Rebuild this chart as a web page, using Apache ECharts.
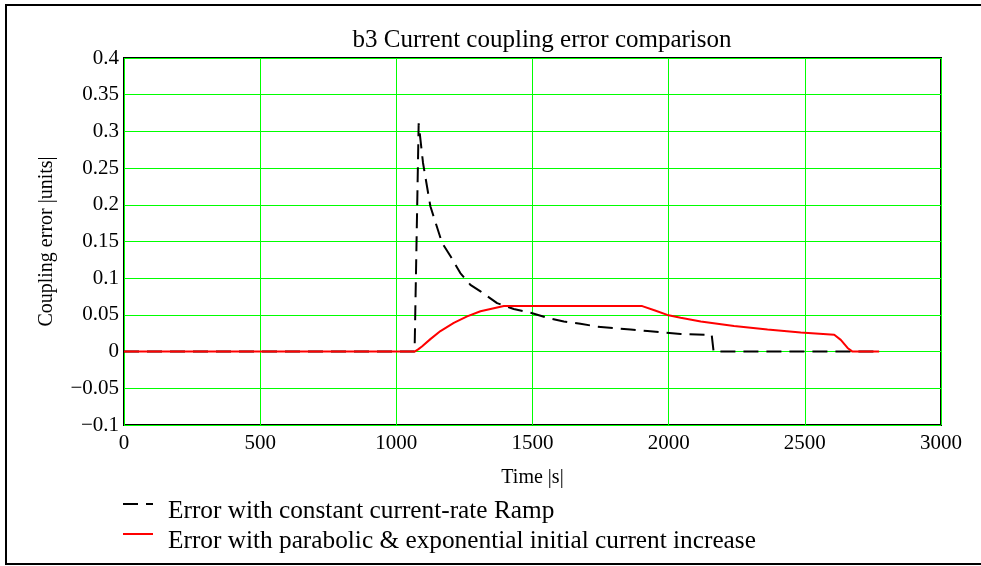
<!DOCTYPE html>
<html>
<head>
<meta charset="utf-8">
<script src="https://cdn.jsdelivr.net/npm/echarts@6/dist/echarts.min.js"></script>
<style>html,body{margin:0;padding:0;background:#fff;}#c{width:981px;height:566px;}</style>
</head>
<body>
<div id="c"></div>
<script>
var titleText = 'b3 Current coupling error comparison';
var xName = 'Time |s|';
var yName = 'Coupling error |units|';
var legendNames = ['Error with constant current-rate Ramp', 'Error with parabolic & exponential initial current increase'];

var rampTime = [0, 1067, 1082, 1098, 1125, 1168, 1199, 1235, 1272, 1309, 1370, 1431, 1493, 1554, 1615, 1676, 1738, 1799, 1860, 1922, 1983, 2044, 2142, 2158, 2165, 2762];
var rampErr  = [0, 0, 0.311, 0.257, 0.198, 0.148, 0.130, 0.107, 0.091, 0.082, 0.066, 0.058, 0.053, 0.046, 0.041, 0.038, 0.034, 0.032, 0.030, 0.028, 0.026, 0.024, 0.023, 0.023, 0, 0];

var paraTime = [0, 1067, 1080, 1094, 1125, 1162, 1211, 1260, 1309, 1358, 1395, 1903, 1950, 1995, 2044, 2118, 2240, 2363, 2485, 2608, 2632, 2657, 2675, 2773];
var paraErr  = [0, 0, 0.003, 0.007, 0.017, 0.028, 0.039, 0.048, 0.055, 0.059, 0.062, 0.062, 0.056, 0.050, 0.046, 0.041, 0.035, 0.030, 0.026, 0.023, 0.016, 0.005, 0, 0];

function pairs(t, v) { return t.map(function (x, i) { return [x, v[i]]; }); }

var font = 'Liberation Serif';
var chart = echarts.init(document.getElementById('c'));
chart.setOption({
  animation: false,
  backgroundColor: '#fff',
  title: {
    text: titleText, left: 537, top: 23, textAlign: 'center',
    textStyle: { fontFamily: font, fontSize: 25, fontWeight: 'normal', color: '#000' }
  },
  grid: { left: 124, right: 40, top: 58, bottom: 141, show: true, borderColor: '#000', borderWidth: 2, backgroundColor: 'transparent' },
  xAxis: {
    type: 'value', min: 0, max: 3000, interval: 500,
    name: xName, nameLocation: 'middle', nameGap: 43,
    nameTextStyle: { fontFamily: font, fontSize: 20, color: '#000' },
    axisLine: { show: false }, axisTick: { show: false },
    axisLabel: { fontFamily: font, fontSize: 21, color: '#000', margin: 8,
      formatter: function (v) { return String(v); } },
    splitLine: { show: true, lineStyle: { color: '#00ff00', width: 1 } }
  },
  yAxis: {
    type: 'value', min: -0.1, max: 0.4, interval: 0.05,
    name: yName, nameLocation: 'middle', nameGap: 67, nameRotate: 90,
    nameTextStyle: { fontFamily: font, fontSize: 20, color: '#000' },
    axisLine: { show: false }, axisTick: { show: false },
    axisLabel: { fontFamily: font, fontSize: 21, color: '#000', margin: 5,
      formatter: function (v) { return String(+v.toFixed(2)).replace('-', '\u2212'); } },
    splitLine: { show: true, lineStyle: { color: '#00ff00', width: 1 } }
  },
  series: [
    { type: 'line', name: legendNames[0], data: pairs(rampTime, rampErr), showSymbol: false, symbol: 'none',
      lineStyle: { color: '#000', width: 2, type: [15, 8] }, z: 2 },
    { type: 'line', name: legendNames[1], data: pairs(paraTime, paraErr), showSymbol: false, symbol: 'none',
      lineStyle: { color: '#ff0000', width: 2 }, z: 3 }
  ],
  graphic: [
    { type: 'rect', shape: { x: 6, y: 5, width: 1000, height: 559 }, style: { fill: 'none', stroke: '#000', lineWidth: 2 }, silent: true, z: -1 },
    { type: 'line', shape: { x1: 123, y1: 504, x2: 153, y2: 504 }, style: { stroke: '#000', lineWidth: 2, lineDash: [15, 8] } },
    { type: 'text', left: 168, top: 499, style: { text: legendNames[0], font: '25.3px "Liberation Serif"', fill: '#000' } },
    { type: 'line', shape: { x1: 123, y1: 534, x2: 153, y2: 534 }, style: { stroke: '#ff0000', lineWidth: 2 } },
    { type: 'text', left: 168, top: 529, style: { text: legendNames[1], font: '25.3px "Liberation Serif"', fill: '#000' } }
  ]
});
</script>
</body>
</html>
